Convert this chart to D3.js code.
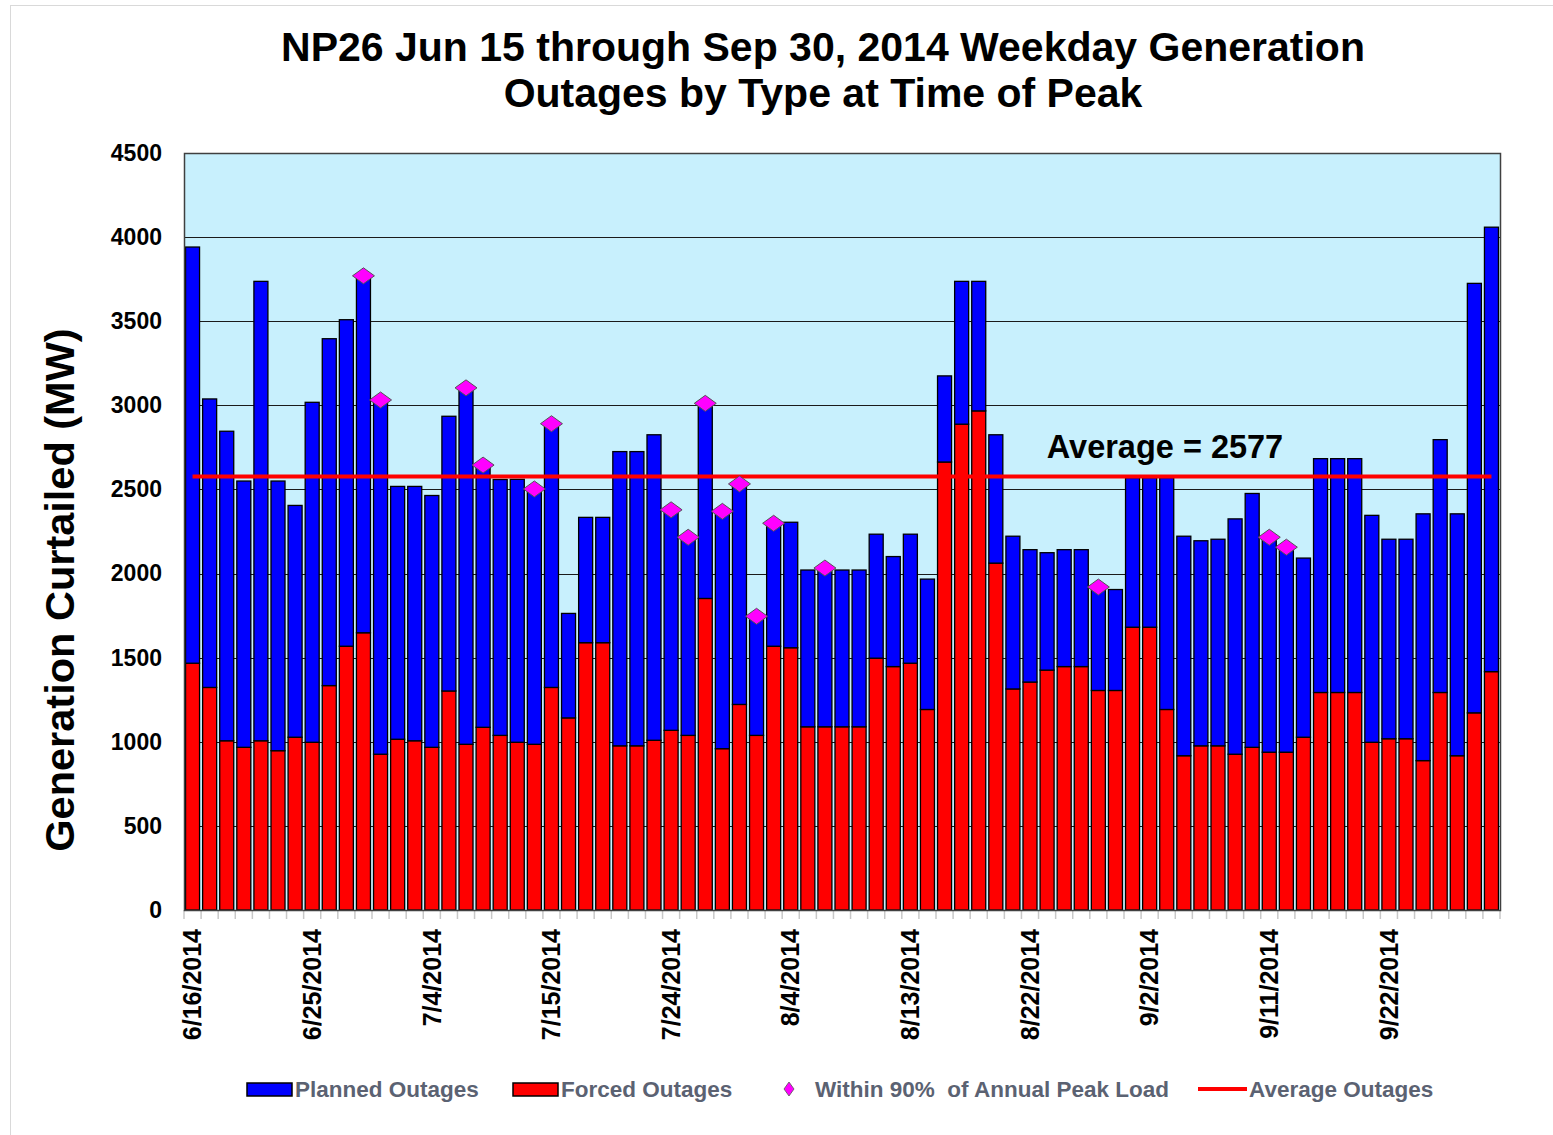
<!DOCTYPE html>
<html>
<head>
<meta charset="utf-8">
<script src="https://cdn.jsdelivr.net/npm/d3@7"></script>
<style>
  body { margin: 0; background: white; }
  text { font-family: Arial, "Liberation Sans", sans-serif; }
</style>
</head>
<body>
<main></main>
<script>
// weekday dates shown on the x axis (every weekday, holidays included)
let days = [
  "6/16/2014","6/17/2014","6/18/2014","6/19/2014","6/20/2014","6/23/2014","6/24/2014","6/25/2014","6/26/2014","6/27/2014","6/30/2014",
  "7/1/2014","7/2/2014","7/3/2014","7/4/2014","7/7/2014","7/8/2014","7/9/2014","7/10/2014","7/11/2014","7/14/2014","7/15/2014",
  "7/16/2014","7/17/2014","7/18/2014","7/21/2014","7/22/2014","7/23/2014","7/24/2014","7/25/2014","7/28/2014","7/29/2014","7/30/2014","7/31/2014",
  "8/1/2014","8/4/2014","8/5/2014","8/6/2014","8/7/2014","8/8/2014","8/11/2014","8/12/2014","8/13/2014","8/14/2014","8/15/2014",
  "8/18/2014","8/19/2014","8/20/2014","8/21/2014","8/22/2014","8/25/2014","8/26/2014","8/27/2014","8/28/2014","8/29/2014",
  "9/1/2014","9/2/2014","9/3/2014","9/4/2014","9/5/2014","9/8/2014","9/9/2014","9/10/2014","9/11/2014","9/12/2014",
  "9/15/2014","9/16/2014","9/17/2014","9/18/2014","9/19/2014","9/22/2014","9/23/2014","9/24/2014","9/25/2014","9/26/2014","9/29/2014","9/30/2014"
]

// forced outages MW (red, bottom of stack)
let forced = [
  1467,1323,1006,967,1006,947,1027,997,1334,1568,1648,
  926,1015,1006,967,1302,985,1086,1038,997,985,1323,
  1142,1589,1589,976,976,1009,1068,1038,1852,959,1222,1038,
  1568,1559,1089,1089,1089,1089,1497,1447,1467,1192,2663,
  2888,2967,2062,1314,1355,1426,1447,1447,1305,1305,
  1681,1681,1192,917,976,976,926,967,938,938,
  1027,1293,1293,1293,997,1018,1018,888,1293,917,1172,1417
]

// planned outages MW (blue, stacked on top)
let planned = [
  2474,1715,1840,1583,2731,1603,1378,2021,2062,1941,2110,
  2094,1503,1512,1497,1633,2107,1547,1521,1563,1506,1556,
  621,745,745,1749,1749,1816,1299,1166,1148,1399,1299,696,
  719,746,932,932,932,932,737,654,767,775,512,
  849,770,763,908,787,698,695,695,603,600,
  889,889,1378,1305,1219,1228,1399,1509,1266,1207,
  1065,1390,1390,1390,1349,1186,1186,1467,1503,1438,2553,2642
]

// days within 90% of annual peak load (diamond marker)
let peakDays = ["6/30/2014","7/1/2014","7/8/2014","7/9/2014","7/14/2014","7/15/2014",
  "7/24/2014","7/25/2014","7/28/2014","7/29/2014","7/30/2014","7/31/2014","8/1/2014",
  "8/6/2014","8/28/2014","9/11/2014","9/12/2014"]

let averageOutages = 2577

let tickLabels = ["6/16/2014","6/25/2014","7/4/2014","7/15/2014","7/24/2014","8/4/2014",
  "8/13/2014","8/22/2014","9/2/2014","9/11/2014","9/22/2014"]
let yTicks = [0,500,1000,1500,2000,2500,3000,3500,4000,4500]

let legendNames = ["Planned Outages", "Forced Outages", "Within 90%  of Annual Peak Load", "Average Outages"]

//set dimensions
const svgWidth = 1553
const svgHeight = 1135
const plotLeft = 184
const plotRight = 1500
const plotTop = 153
const plotBottom = 910

let data = days.map((d, i) => ({day: d, forced: forced[i], planned: planned[i]}))

let svg = d3.select("main")
    .append("svg")
    .attr("width", svgWidth)
    .attr("height", svgHeight)
    .style("display", "block")

// chart area border
svg.append("rect")
    .attr("x", 10.5)
    .attr("y", 5.5)
    .attr("width", 1560)
    .attr("height", 1140)
    .attr("fill", "white")
    .attr("stroke", "#d9d9d9")

//title
svg.append("text")
    .attr("x", 823)
    .attr("text-anchor", "middle")
    .style("font-size", "41px")
    .style("font-weight", "bold")
    .selectAll("tspan")
    .data(["NP26 Jun 15 through Sep 30, 2014 Weekday Generation", "Outages by Type at Time of Peak"])
    .enter()
    .append("tspan")
    .attr("x", 823)
    .attr("y", (d, i) => 61 + i * 46)
    .text(d => d)

//scales
let xScale = d3.scaleBand()
    .domain(days)
    .range([plotLeft, plotRight])
    .paddingInner(0.18)
    .paddingOuter(0.09)

let yScale = d3.scaleLinear()
    .domain([0, 4500])
    .range([plotBottom, plotTop])

// plot background
svg.append("rect")
    .attr("x", plotLeft)
    .attr("y", plotTop)
    .attr("width", plotRight - plotLeft)
    .attr("height", plotBottom - plotTop)
    .attr("fill", "#c8f0fd")

// grid lines
svg.append("g")
    .selectAll("line")
    .data(yTicks)
    .enter()
    .append("line")
    .attr("x1", plotLeft)
    .attr("x2", plotRight)
    .attr("y1", d => Math.round(yScale(d)) + 0.5)
    .attr("y2", d => Math.round(yScale(d)) + 0.5)
    .attr("stroke", "#1a1a1a")
    .attr("stroke-width", 1.2)

// y axis
let leftAxis = d3.axisLeft(yScale)
    .tickValues(yTicks)
    .tickFormat(d3.format("d"))
    .tickSize(0)
    .tickPadding(22)

let yAxis = svg.append("g")
    .attr("transform", `translate(${plotLeft}, 0)`)
    .call(leftAxis)

yAxis.select("path").remove()
yAxis.selectAll("text")
    .style("font-size", "23px")
    .style("font-weight", "bold")
    .style("font-family", "Arial, 'Liberation Sans', sans-serif")
    .attr("fill", "black")

svg.append("text")
    .attr("transform", `translate(74, 590) rotate(-90)`)
    .attr("text-anchor", "middle")
    .style("font-size", "41.5px")
    .style("font-weight", "bold")
    .text("Generation Curtailed (MW)")

// category ticks below the axis
let bandStep = xScale.step()
svg.append("g")
    .selectAll("line")
    .data(days.concat(["end"]))
    .enter()
    .append("line")
    .attr("x1", (d, i) => plotLeft + i * bandStep)
    .attr("x2", (d, i) => plotLeft + i * bandStep)
    .attr("y1", plotBottom)
    .attr("y2", plotBottom + 9)
    .attr("stroke", "#c8c8c8")
    .attr("stroke-width", 1.5)

// x axis labels
let bottomAxis = d3.axisBottom(xScale)
    .tickValues(tickLabels)
    .tickSize(0)
    .tickPadding(0)

let xAxis = svg.append("g")
    .attr("transform", `translate(0, ${plotBottom})`)
    .call(bottomAxis)

xAxis.select("path").remove()
xAxis.selectAll("text")
    .attr("transform", "rotate(-90)")
    .attr("x", -19)
    .attr("y", 0)
    .attr("dy", "0.35em")
    .style("text-anchor", "end")
    .style("font-size", "25px")
    .style("font-weight", "bold")
    .style("font-family", "Arial, 'Liberation Sans', sans-serif")
    .attr("fill", "black")

// stacked bars
let stack = d3.stack().keys(["forced", "planned"])
let series = stack(data)
let barColors = {forced: "#ff0000", planned: "#0000ff"}

svg.append("g")
    .selectAll("g")
    .data(series)
    .enter()
    .append("g")
    .attr("fill", d => barColors[d.key])
    .selectAll("rect")
    .data(d => d)
    .enter()
    .append("rect")
    .attr("x", d => xScale(d.data.day))
    .attr("y", d => yScale(d[1]))
    .attr("width", xScale.bandwidth())
    .attr("height", d => yScale(d[0]) - yScale(d[1]))
    .attr("stroke", "black")
    .attr("stroke-width", 1.3)

// average line
let avgLine = d3.line()
    .x(d => xScale(d) + xScale.bandwidth() / 2)
    .y(() => yScale(averageOutages))

svg.append("path")
    .datum(days)
    .attr("d", avgLine)
    .attr("fill", "none")
    .attr("stroke", "#ff0000")
    .attr("stroke-width", 4)

svg.append("text")
    .attr("x", 1165)
    .attr("y", 458)
    .attr("text-anchor", "middle")
    .style("font-size", "32.5px")
    .style("font-weight", "bold")
    .text(`Average = ${averageOutages}`)

// peak load diamonds
let diamond = "M0,-8L11,0L0,8L-11,0Z"
svg.append("g")
    .selectAll("path")
    .data(data.filter(d => peakDays.includes(d.day)))
    .enter()
    .append("path")
    .attr("d", diamond)
    .attr("transform", d => `translate(${xScale(d.day) + xScale.bandwidth() / 2}, ${yScale(d.forced + d.planned) - 2})`)
    .attr("fill", "#ff00ff")
    .attr("stroke", "#555")
    .attr("stroke-width", 1)

// plot border
svg.append("rect")
    .attr("x", plotLeft + 0.5)
    .attr("y", plotTop + 0.5)
    .attr("width", plotRight - plotLeft)
    .attr("height", plotBottom - plotTop)
    .attr("fill", "none")
    .attr("stroke", "#404040")
    .attr("stroke-width", 1.5)

//legend
let legend = svg.append("g")
let legendText = "#5b6272"

legend.append("rect")
    .attr("x", 247).attr("y", 1083).attr("width", 45).attr("height", 13)
    .attr("fill", "#0000ff").attr("stroke", "black").attr("stroke-width", 1.5)
legend.append("rect")
    .attr("x", 513).attr("y", 1083).attr("width", 45).attr("height", 13)
    .attr("fill", "#ff0000").attr("stroke", "black").attr("stroke-width", 1.5)
legend.append("path")
    .attr("d", "M0,-7L5,0L0,7L-5,0Z")
    .attr("transform", "translate(789, 1089)")
    .attr("fill", "#ff00ff").attr("stroke", "#555").attr("stroke-width", 0.8)
legend.append("line")
    .attr("x1", 1198).attr("x2", 1247).attr("y1", 1089).attr("y2", 1089)
    .attr("stroke", "#ff0000").attr("stroke-width", 4)

let legendX = [295, 561, 815, 1249]
legend.selectAll("text")
    .data(legendNames)
    .enter()
    .append("text")
    .attr("x", (d, i) => legendX[i])
    .attr("y", 1097)
    .style("font-size", "22.5px")
    .style("font-weight", "bold")
    .attr("fill", legendText)
    .attr("xml:space", "preserve")
    .text(d => d)
</script>
</body>
</html>
